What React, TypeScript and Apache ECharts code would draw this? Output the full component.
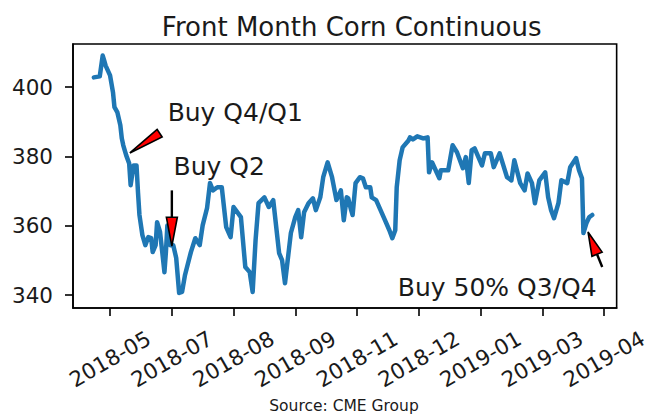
import React, { useEffect, useRef } from 'react';
import * as echarts from 'echarts';

const dates = [
  '2018-05-09', '2018-05-13', '2018-05-15', '2018-05-16', '2018-05-17', '2018-05-20', '2018-05-22', '2018-05-23',
  '2018-05-25', '2018-05-27', '2018-05-28', '2018-05-29', '2018-05-31', '2018-06-02', '2018-06-03', '2018-06-05',
  '2018-06-07', '2018-06-08', '2018-06-09', '2018-06-11', '2018-06-13', '2018-06-15', '2018-06-17', '2018-06-18',
  '2018-06-20', '2018-06-21', '2018-06-23', '2018-06-24', '2018-06-26', '2018-06-27', '2018-06-28', '2018-06-30',
  '2018-07-02', '2018-07-04', '2018-07-06', '2018-07-08', '2018-07-10', '2018-07-14', '2018-07-17', '2018-07-20',
  '2018-07-22', '2018-07-25', '2018-07-27', '2018-07-29', '2018-08-01', '2018-08-04', '2018-08-07', '2018-08-10',
  '2018-08-12', '2018-08-17', '2018-08-20', '2018-08-23', '2018-08-25', '2018-08-27', '2018-08-29', '2018-09-02',
  '2018-09-05', '2018-09-08', '2018-09-12', '2018-09-14', '2018-09-16', '2018-09-20', '2018-09-23', '2018-09-25',
  '2018-09-27', '2018-09-29', '2018-10-02', '2018-10-05', '2018-10-07', '2018-10-10', '2018-10-12', '2018-10-15',
  '2018-10-18', '2018-10-21', '2018-10-24', '2018-10-26', '2018-10-28', '2018-10-29', '2018-10-31', '2018-11-01',
  '2018-11-03', '2018-11-06', '2018-11-08', '2018-11-10', '2018-11-13', '2018-11-14', '2018-11-17', '2018-11-20',
  '2018-11-23', '2018-11-26', '2018-11-28', '2018-11-30', '2018-12-01', '2018-12-03', '2018-12-05', '2018-12-09',
  '2018-12-10', '2018-12-12', '2018-12-15', '2018-12-19', '2018-12-22', '2018-12-23', '2018-12-25', '2018-12-30',
  '2018-12-31', '2019-01-05', '2019-01-08', '2019-01-11', '2019-01-15', '2019-01-17', '2019-01-19', '2019-01-21',
  '2019-01-23', '2019-01-28', '2019-01-30', '2019-02-03', '2019-02-05', '2019-02-09', '2019-02-14', '2019-02-17',
  '2019-02-19', '2019-02-23', '2019-02-26', '2019-02-28', '2019-03-03', '2019-03-05', '2019-03-08', '2019-03-12',
  '2019-03-14', '2019-03-16', '2019-03-18', '2019-03-21', '2019-03-23', '2019-03-27', '2019-03-29', '2019-04-02',
  '2019-04-04', '2019-04-06', '2019-04-07', '2019-04-09', '2019-04-11', '2019-04-13',
];

const prices = [
  402.8, 403.1, 409.1, 407.7, 406.2, 403.4, 398.5, 394.2,
  392.7, 389.0, 385.2, 383.2, 380.3, 378.0, 371.7, 377.4,
  377.4, 369.7, 363.1, 357.3, 354.4, 356.7, 356.4, 352.4,
  354.4, 361.0, 358.2, 354.4, 346.6, 352.4, 360.1, 354.4,
  354.4, 350.7, 340.6, 340.9, 345.8, 352.4, 356.4, 354.4,
  360.1, 365.1, 372.3, 370.2, 371.1, 371.1, 359.6, 356.7,
  365.4, 362.5, 348.1, 346.6, 340.9, 355.9, 366.5, 368.2,
  365.4, 367.4, 352.1, 350.1, 343.4, 357.9, 362.5, 364.5,
  356.7, 363.9, 366.5, 367.9, 364.5, 368.2, 374.0, 378.3,
  374.0, 367.4, 370.2, 361.6, 368.2, 367.9, 364.5, 363.1,
  372.3, 374.0, 373.7, 371.1, 371.1, 368.2, 367.4, 364.5,
  361.6, 358.7, 356.4, 358.7, 371.1, 378.9, 382.6, 384.6,
  385.5, 384.9, 385.8, 385.2, 385.5, 375.4, 378.3, 373.7,
  376.0, 376.0, 383.2, 381.2, 376.6, 379.8, 372.3, 381.8,
  382.3, 377.4, 380.9, 380.9, 376.9, 380.9, 374.0, 373.1,
  378.9, 372.3, 370.2, 375.1, 372.3, 366.5, 373.1, 375.4,
  368.2, 364.5, 362.2, 366.5, 373.1, 372.3, 376.9, 379.5,
  376.0, 373.7, 357.9, 360.7, 362.5, 363.1,
];

const xTickDates = [
  '2018-05-20', '2018-07-01', '2018-08-12', '2018-09-23', '2018-11-04',
  '2018-12-16', '2019-01-27', '2019-03-10', '2019-04-21',
];
const yTicks = [340, 360, 380, 400];
const xRange = ['2018-04-24 19:12', '2019-04-29 14:24'];
const yRange = [336.26, 412.44];

const titleText = 'Front Month Corn Continuous';
const sourceText = 'Source: CME Group';

const annotationTexts = ['Buy Q4/Q1', 'Buy Q2', 'Buy 50% Q3/Q4'];
const annotationTextAt: [string, number][] = [
  ['2018-06-28 04:00', 392.6],
  ['2018-07-02 05:00', 377.2],
  ['2018-12-01 18:00', 342.3],
];
const annotationTail: [string, number][] = [
  ['2018-06-22 18:00', 386.7],
  ['2018-07-01 01:00', 370.2],
  ['2019-04-19 19:00', 348.1],
];
const annotationTip: [string, number][] = [
  ['2018-06-02 12:00', 381.0],
  ['2018-07-01 01:00', 354.1],
  ['2019-04-10 03:00', 358.2],
];
const annotationHead = [
  { length: 40, width: 9 },
  { length: 29, width: 11 },
  { length: 24, width: 11 },
];

const FONT = "'DejaVu Sans', sans-serif";
const TEXT_COLOR = '#1a1a1a';

function parseTime(s: string): number {
  const m = /^(\d{4})-(\d{2})-(\d{2})(?:[ T](\d{2}):(\d{2}))?$/.exec(s);
  if (!m) return NaN;
  return new Date(+m[1], +m[2] - 1, +m[3], m[4] ? +m[4] : 0, m[5] ? +m[5] : 0).getTime();
}

export default function App() {
  const ref = useRef<HTMLDivElement>(null);

  useEffect(() => {
    if (!ref.current) return;
    const chart = echarts.init(ref.current, null, { renderer: 'svg' });

    const seriesData = dates.map((d, i) => [parseTime(d), prices[i]]);
    const tickValues = xTickDates.map(parseTime);

    chart.setOption({
      animation: false,
      backgroundColor: '#ffffff',
      title: {
        text: titleText,
        left: 346.7,
        top: 9,
        textAlign: 'center',
        textStyle: { fontFamily: FONT, fontSize: 26, fontWeight: 'normal', color: TEXT_COLOR },
      },
      grid: {
        left: 73,
        right: 30,
        top: 44,
        bottom: 107,
        show: true,
        borderColor: '#000',
        borderWidth: 1.6,
        backgroundColor: 'transparent',
      },
      xAxis: {
        type: 'value',
        min: parseTime(xRange[0]),
        max: parseTime(xRange[1]),
        axisLine: { show: true, lineStyle: { color: '#000', width: 1.6 } },
        axisTick: {
          show: true,
          customValues: tickValues,
          length: 8,
          lineStyle: { color: '#000', width: 1.6 },
        },
        axisLabel: {
          show: true,
          customValues: tickValues,
          rotate: 30,
          align: 'center',
          verticalAlign: 'middle',
          margin: 51,
          fontFamily: FONT,
          fontSize: 21.5,
          color: TEXT_COLOR,
          formatter: (val: number) => {
            const d = new Date(val);
            return `${d.getFullYear()}-${String(d.getMonth() + 1).padStart(2, '0')}`;
          },
        },
        splitLine: { show: false },
      },
      yAxis: {
        type: 'value',
        min: yRange[0],
        max: yRange[1],
        axisLine: { show: true, lineStyle: { color: '#000', width: 1.6 } },
        axisTick: {
          show: true,
          customValues: yTicks,
          length: 8,
          lineStyle: { color: '#000', width: 1.6 },
        },
        axisLabel: {
          show: true,
          customValues: yTicks,
          margin: 20,
          fontFamily: FONT,
          fontSize: 21.5,
          color: TEXT_COLOR,
        },
        splitLine: { show: false },
      },
      series: [
        {
          type: 'line',
          data: seriesData,
          showSymbol: false,
          symbol: 'none',
          lineStyle: { color: '#1f77b4', width: 4.5, join: 'round', cap: 'round' },
          clip: true,
          z: 2,
        },
      ],
    });

    const toPx = (p: [string, number]) =>
      chart.convertToPixel({ gridIndex: 0 }, [parseTime(p[0]), p[1]]) as number[];

    const graphics: any[] = [];
    annotationTexts.forEach((txt, i) => {
      const tp = toPx(annotationTextAt[i]);
      const tail = toPx(annotationTail[i]);
      const tip = toPx(annotationTip[i]);
      const dx = tip[0] - tail[0];
      const dy = tip[1] - tail[1];
      const len = Math.sqrt(dx * dx + dy * dy) || 1;
      const ux = dx / len;
      const uy = dy / len;
      const nx = -uy;
      const ny = ux;
      const hl = Math.min(annotationHead[i].length, len);
      const hw = annotationHead[i].width / 2;
      const bx = tip[0] - ux * hl;
      const by = tip[1] - uy * hl;
      if (hl < len) {
        graphics.push({
          type: 'line',
          z: 100,
          shape: { x1: tail[0], y1: tail[1], x2: bx, y2: by },
          style: { stroke: '#000', lineWidth: 2.4 },
        });
      }
      graphics.push({
        type: 'polygon',
        z: 101,
        shape: {
          points: [
            [bx + nx * hw, by + ny * hw],
            [tip[0], tip[1]],
            [bx - nx * hw, by - ny * hw],
          ],
        },
        style: { fill: '#ff0000', stroke: '#000', lineWidth: 1.6, lineJoin: 'miter' },
      });
      graphics.push({
        type: 'text',
        z: 102,
        x: tp[0],
        y: tp[1],
        style: {
          text: txt,
          font: `25px ${FONT}`,
          fill: TEXT_COLOR,
          align: 'left',
          verticalAlign: 'middle',
        },
      });
    });

    graphics.push({
      type: 'text',
      z: 102,
      x: 344,
      y: 406,
      style: {
        text: sourceText,
        font: `15.5px ${FONT}`,
        fill: TEXT_COLOR,
        align: 'center',
        verticalAlign: 'middle',
      },
    });

    chart.setOption({ graphic: graphics });

    return () => {
      chart.dispose();
    };
  }, []);

  return (
    <div
      ref={ref}
      style={{ position: 'fixed', left: 0, top: 0, width: 651, height: 415, background: '#fff' }}
    />
  );
}
